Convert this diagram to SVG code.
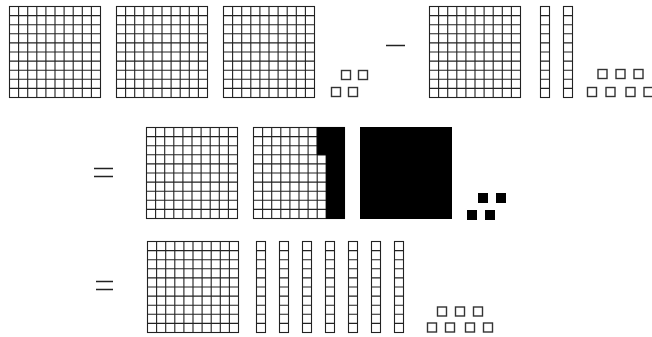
<svg xmlns="http://www.w3.org/2000/svg" xmlns:xlink="http://www.w3.org/1999/xlink" width="652" height="337" viewBox="0 0 652 337">
<style>
.g{fill:#fff;stroke:#222;stroke-width:1.1}
.o{fill:#fff;stroke:#333;stroke-width:1.4}
.b{fill:#000;stroke:#000;stroke-width:1}
.s{stroke:#222;stroke-width:1.5;fill:none}
</style>
<defs>
<g id="hundred">
<rect class="g" x="0" y="0" width="91" height="91"/>
<path class="g" d="M9.1 0V91M18.2 0V91M27.3 0V91M36.4 0V91M45.5 0V91M54.6 0V91M63.7 0V91M72.8 0V91M81.9 0V91M0 9.1H91M0 18.2H91M0 27.3H91M0 36.4H91M0 45.5H91M0 54.6H91M0 63.7H91M0 72.8H91M0 81.9H91"/>
</g>
<g id="ten">
<rect class="g" x="0" y="0" width="9" height="91"/>
<path class="g" d="M0 9.1H9M0 18.2H9M0 27.3H9M0 36.4H9M0 45.5H9M0 54.6H9M0 63.7H9M0 72.8H9M0 81.9H9"/>
</g>
<rect id="one" class="o" x="0" y="0" width="9" height="9"/>
<rect id="bone" class="b" x="0" y="0" width="9" height="9"/>
</defs>
<rect width="652" height="337" fill="#fff"/>
<g id="row1">
<g id="h1"><use xlink:href="#hundred" x="9.5" y="6.5"/></g>
<g id="h2"><use xlink:href="#hundred" x="116.5" y="6.5"/></g>
<g id="h3"><use xlink:href="#hundred" x="223.5" y="6.5"/></g>
<g id="ones1">
<use xlink:href="#one" x="341.5" y="70.5"/>
<use xlink:href="#one" x="358.5" y="70.5"/>
<use xlink:href="#one" x="331.5" y="87.5"/>
<use xlink:href="#one" x="348.5" y="87.5"/>
</g>
<g id="minus"><path class="s" d="M386 45.5H405"/></g>
<g id="h4"><use xlink:href="#hundred" x="429.5" y="6.5"/></g>
<g id="t1"><use xlink:href="#ten" x="540.5" y="6.5"/></g>
<g id="t2"><use xlink:href="#ten" x="563.5" y="6.5"/></g>
<g id="ones2">
<use xlink:href="#one" x="598" y="69.5"/>
<use xlink:href="#one" x="616" y="69.5"/>
<use xlink:href="#one" x="634" y="69.5"/>
<use xlink:href="#one" x="587.5" y="87.5"/>
<use xlink:href="#one" x="606" y="87.5"/>
<use xlink:href="#one" x="626" y="87.5"/>
<use xlink:href="#one" x="644" y="87.5"/>
</g>
</g>
<g id="row2">
<g id="eq1"><path class="s" d="M94 168.5H113M94 176.5H113"/></g>
<g id="h5"><use xlink:href="#hundred" x="146.5" y="127.5"/></g>
<g id="h6"><use xlink:href="#hundred" x="253.5" y="127.5"/>
<polygon class="b" points="317.2,127.5 344.5,127.5 344.5,218.5 326.3,218.5 326.3,154.8 317.2,154.8"/></g>
<g id="hb"><rect class="b" x="360.5" y="127.5" width="91" height="91"/></g>
<g id="onesb">
<use xlink:href="#bone" x="478.5" y="193.5"/>
<use xlink:href="#bone" x="496.5" y="193.5"/>
<use xlink:href="#bone" x="467.5" y="210.5"/>
<use xlink:href="#bone" x="485.5" y="210.5"/>
</g>
</g>
<g id="row3">
<g id="eq2"><path class="s" d="M96 281.5H113M96 289.5H113"/></g>
<g id="h7"><use xlink:href="#hundred" x="147.5" y="241.5"/></g>
<g id="tens3">
<use xlink:href="#ten" x="256.5" y="241.5"/>
<use xlink:href="#ten" x="279.5" y="241.5"/>
<use xlink:href="#ten" x="302.5" y="241.5"/>
<use xlink:href="#ten" x="325.5" y="241.5"/>
<use xlink:href="#ten" x="348.5" y="241.5"/>
<use xlink:href="#ten" x="371.5" y="241.5"/>
<use xlink:href="#ten" x="394.5" y="241.5"/>
</g>
<g id="ones3">
<use xlink:href="#one" x="437.5" y="307"/>
<use xlink:href="#one" x="455.5" y="307"/>
<use xlink:href="#one" x="473.5" y="307"/>
<use xlink:href="#one" x="427.5" y="323"/>
<use xlink:href="#one" x="445.5" y="323"/>
<use xlink:href="#one" x="465.5" y="323"/>
<use xlink:href="#one" x="483.5" y="323"/>
</g>
</g>
</svg>
